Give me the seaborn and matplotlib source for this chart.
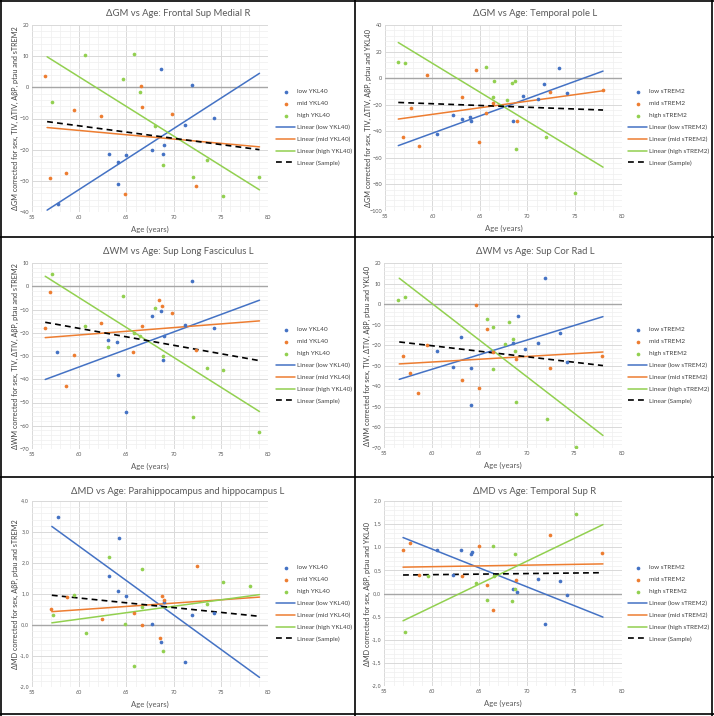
import numpy as np
import pandas as pd
import matplotlib
matplotlib.use('Agg')
import matplotlib.pyplot as plt
import matplotlib.ticker as mticker
from matplotlib.lines import Line2D
import seaborn as sns

# ---- Panel 1: dGM Frontal Sup Medial R (YKL40 groups)
p1_low_x = [57.75, 63.2, 64.15, 64.96, 64.1, 68.66, 67.7, 68.98, 68.9, 71.2, 71.9, 74.26]
p1_low_y = [-37.4, -21.3, -24.1, -21.8, -31.0, 5.9, -20.1, -18.4, -21.3, -12.0, 0.6, -9.9]
p1_mid_x = [56.4, 56.94, 58.6, 59.5, 62.3, 64.8, 66.5, 66.6, 69.8, 72.4]
p1_mid_y = [3.5, -29.2, -27.4, -7.3, -9.1, -34.2, 0.3, -6.4, -8.7, -31.6]
p1_high_x = [57.1, 60.6, 64.6, 65.8, 66.4, 68.0, 68.9, 72.1, 73.5, 75.2, 79.0]
p1_high_y = [-4.6, 10.4, 2.8, 10.8, -1.5, -12.4, -24.9, -28.7, -23.3, -35.0, -28.7]
p1_fit_x = [56.6, 79.1]
p1_fit_low = [-39.4, 4.5]
p1_fit_mid = [-12.9, -19.1]
p1_fit_high = [9.8, -32.9]
p1_fit_all = [-11.0, -20.0]

# ---- Panel 2: dGM Temporal pole L (sTREM2 groups)
p2_low_x = [60.5, 62.2, 63.1, 64.0, 64.1, 68.5, 69.6, 71.1, 71.8, 73.4, 74.2]
p2_low_y = [-42.3, -27.8, -31.0, -29.3, -32.5, -32.5, -13.8, -15.5, -4.5, 7.3, -11.0]
p2_mid_x = [56.9, 57.7, 58.6, 59.4, 63.1, 64.6, 64.9, 65.7, 66.4, 68.9, 72.4, 78.0]
p2_mid_y = [-44.5, -22.3, -51.0, 2.0, -14.3, 5.8, -47.8, -26.3, -18.5, -32.5, -10.8, -8.8]
p2_high_x = [56.4, 57.1, 65.7, 66.5, 66.4, 67.9, 68.4, 68.7, 68.8, 72.0, 75.0]
p2_high_y = [12.0, 11.5, 8.5, -2.5, -14.3, -16.3, -3.8, -1.8, -53.5, -44.5, -86.5]
p2_fit_x = [56.4, 78.0]
p2_fit_low = [-50.8, 5.3]
p2_fit_mid = [-30.8, -9.5]
p2_fit_high = [26.8, -67.0]
p2_fit_all = [-18.3, -24.0]

# ---- Panel 3: dWM Sup Long Fasciculus L (YKL40 groups)
p3_low_x = [57.7, 63.1, 64.0, 64.15, 64.96, 67.7, 68.66, 68.98, 68.9, 71.2, 71.9, 74.26]
p3_low_y = [-28.1, -23.2, -23.8, -38.1, -54.2, -12.9, -10.5, -21.3, -31.8, -16.6, 2.3, -18.1]
p3_mid_x = [56.4, 56.94, 58.6, 59.5, 62.3, 65.7, 66.6, 68.5, 68.8, 69.8, 72.4]
p3_mid_y = [-18.1, -2.6, -42.7, -29.5, -15.9, -28.4, -17.2, -5.7, -8.5, -11.7, -27.4]
p3_high_x = [57.1, 60.6, 64.6, 63.1, 65.8, 66.4, 68.0, 68.9, 72.1, 73.5, 75.2, 79.0]
p3_high_y = [5.2, -16.9, -4.3, -26.1, -20.2, -21.3, -9.5, -29.8, -56.4, -35.0, -36.2, -62.9]
p3_fit_x = [56.4, 79.1]
p3_fit_low = [-40.1, -6.0]
p3_fit_mid = [-22.1, -14.9]
p3_fit_high = [4.3, -53.9]
p3_fit_all = [-15.5, -32.0]

# ---- Panel 4: dWM Sup Cor Rad L (sTREM2 groups)
p4_low_x = [60.6, 62.3, 63.1, 64.1, 64.1, 68.6, 69.1, 69.8, 71.2, 71.9, 73.5, 74.2]
p4_low_y = [-22.8, -30.4, -15.9, -31.2, -49.0, -18.9, -5.8, -21.7, -19.1, 12.6, -13.9, -28.3]
p4_mid_x = [57.0, 57.7, 58.6, 59.5, 63.2, 64.7, 65.0, 65.8, 66.5, 68.9, 72.4, 77.9]
p4_mid_y = [-25.1, -33.3, -43.2, -19.9, -37.1, -0.2, -40.6, -12.0, -23.1, -26.9, -30.9, -25.2]
p4_high_x = [56.5, 57.2, 65.8, 66.5, 66.5, 67.7, 68.1, 68.6, 68.8, 68.9, 72.1, 75.2]
p4_high_y = [1.8, 3.4, -7.0, -11.3, -31.6, -19.4, -8.7, -17.2, -22.8, -47.4, -55.7, -69.7]
p4_fit_x = [56.6, 78.0]
p4_fit_low = [-36.6, -6.1]
p4_fit_mid = [-29.1, -23.3]
p4_fit_high = [12.6, -63.9]
p4_fit_all = [-18.4, -29.9]

# ---- Panel 5: dMD Parahippocampus and hippocampus L (YKL40 groups)
p5_low_x = [57.8, 63.2, 64.2, 64.15, 65.0, 67.7, 68.7, 69.0, 71.2, 71.9, 74.3]
p5_low_y = [3.49, 1.59, 2.80, 1.09, 0.94, 0.02, -0.56, 0.75, -1.20, 0.32, 0.40]
p5_mid_x = [57.0, 58.7, 62.4, 65.8, 66.7, 68.6, 68.8, 69.0, 72.5]
p5_mid_y = [0.51, 0.90, 0.18, 0.40, -0.01, -0.43, 0.92, 0.82, 1.91]
p5_high_x = [57.2, 59.5, 60.7, 63.2, 64.8, 65.8, 66.6, 66.6, 68.9, 73.5, 75.2, 78.1]
p5_high_y = [0.32, 0.96, -0.27, 2.20, 0.03, -1.33, 1.81, 0.58, -0.84, 0.67, 1.40, 1.27]
p5_fit_x = [57.1, 79.1]
p5_fit_low = [3.18, -1.69]
p5_fit_mid = [0.43, 0.90]
p5_fit_high = [0.07, 0.98]
p5_fit_all = [0.96, 0.28]

# ---- Panel 6: dMD Temporal Sup R (sTREM2 groups)
p6_low_x = [60.6, 62.3, 63.1, 64.1, 64.2, 68.6, 69.0, 71.2, 71.9, 73.5, 74.2]
p6_low_y = [0.95, 0.40, 0.95, 0.86, 0.90, 0.09, 0.04, 0.31, -0.67, 0.28, -0.04]
p6_mid_x = [57.0, 57.7, 58.7, 63.2, 65.0, 65.8, 66.5, 68.9, 72.4, 77.9]
p6_mid_y = [0.93, 1.09, 0.39, 0.38, 1.02, 0.19, -0.35, 0.30, 1.26, 0.87]
p6_high_x = [57.2, 59.6, 64.7, 65.8, 66.5, 66.6, 68.4, 68.8, 68.8, 75.2]
p6_high_y = [-0.84, 0.38, 0.23, -0.13, 1.02, 0.37, -0.17, 0.86, 0.10, 1.71]
p6_fit_x = [57.0, 78.0]
p6_fit_low = [1.21, -0.51]
p6_fit_mid = [0.57, 0.64]
p6_fit_high = [-0.59, 1.49]
p6_fit_all = [0.40, 0.45]

titles = ['ΔGM vs Age: Frontal Sup Medial R', 'ΔGM vs Age: Temporal pole L',
          'ΔWM vs Age: Sup Long Fasciculus L', 'ΔWM vs Age: Sup Cor Rad L',
          'ΔMD vs Age: Parahippocampus and hippocampus L', 'ΔMD vs Age: Temporal Sup R']
ylabels = ['ΔGM corrected for sex, TIV, ΔTIV, AβP, ptau and sTREM2',
           'ΔGM corrected for sex, TIV, ΔTIV, AβP, ptau and YKL40',
           'ΔWM corrected for sex, TIV, ΔTIV, AβP, ptau and sTREM2',
           'ΔWM corrected for sex, TIV, ΔTIV, AβP, ptau and YKL40',
           'ΔMD corrected for sex, AβP, ptau and sTREM2',
           'ΔMD corrected for sex, AβP, ptau and YKL40']
markers = ['YKL40', 'sTREM2', 'YKL40', 'sTREM2', 'YKL40', 'sTREM2']

colors = {'low': '#4472C4', 'mid': '#ED7D31', 'high': '#92D050'}

sns.set_style('white')
plt.rcParams['font.family'] = ['Lato', 'DejaVu Sans']

W, H = 714, 716
fig = plt.figure(figsize=(W / 100, H / 100), dpi=100)

# plot areas in pixels: x0, x1, y_top, y_bottom
boxes = [(32, 268, 25, 212), (385, 622, 25, 211),
         (32, 268, 263, 449), (384, 622, 263, 448),
         (32, 268, 501, 687), (384, 622, 501, 686)]
ylims = [(-40, 20, 10), (-100, 40, 20), (-70, 10, 10), (-70, 20, 10), (-2, 4, 1), (-2, 2, 0.5)]
panel_x0 = [0, 357, 0, 357, 0, 357]
row_top = [0, 0, 238, 238, 478, 478]
legend_left = [276, 628, 276, 628, 276, 628]
legend_top = [89, 89, 327, 327, 565, 565]

panels = [
    (p1_low_x, p1_low_y, p1_mid_x, p1_mid_y, p1_high_x, p1_high_y, p1_fit_x, p1_fit_low, p1_fit_mid, p1_fit_high, p1_fit_all),
    (p2_low_x, p2_low_y, p2_mid_x, p2_mid_y, p2_high_x, p2_high_y, p2_fit_x, p2_fit_low, p2_fit_mid, p2_fit_high, p2_fit_all),
    (p3_low_x, p3_low_y, p3_mid_x, p3_mid_y, p3_high_x, p3_high_y, p3_fit_x, p3_fit_low, p3_fit_mid, p3_fit_high, p3_fit_all),
    (p4_low_x, p4_low_y, p4_mid_x, p4_mid_y, p4_high_x, p4_high_y, p4_fit_x, p4_fit_low, p4_fit_mid, p4_fit_high, p4_fit_all),
    (p5_low_x, p5_low_y, p5_mid_x, p5_mid_y, p5_high_x, p5_high_y, p5_fit_x, p5_fit_low, p5_fit_mid, p5_fit_high, p5_fit_all),
    (p6_low_x, p6_low_y, p6_mid_x, p6_mid_y, p6_high_x, p6_high_y, p6_fit_x, p6_fit_low, p6_fit_mid, p6_fit_high, p6_fit_all),
]

for i, pdata in enumerate(panels):
    lx, ly, mx, my, hx, hy, fx, fl, fm, fh, fa = pdata
    x0, x1, yt, yb = boxes[i]
    ax = fig.add_axes([x0 / W, 1 - yb / H, (x1 - x0) / W, (yb - yt) / H])
    ymin, ymax, ystep = ylims[i]
    mk = markers[i]

    for g, gx, gy in [('low', lx, ly), ('mid', mx, my), ('high', hx, hy)]:
        sns.scatterplot(x=gx, y=gy, color=colors[g], s=7, linewidth=0, ax=ax,
                        label=f'{g} {mk}', zorder=4)
    for g, fy in [('low', fl), ('mid', fm), ('high', fh)]:
        sns.lineplot(x=fx, y=fy, color=colors[g], lw=1.1, ax=ax,
                     label=f'Linear ({g} {mk})', zorder=3)
    sns.lineplot(x=fx, y=fa, color='black', lw=1.2, ax=ax, label='Linear (Sample)', zorder=3)
    ax.lines[-1].set_dashes([3.5, 2.5])

    ax.set_xlim(55, 80)
    ax.set_ylim(ymin, ymax)
    ax.xaxis.set_major_locator(mticker.MultipleLocator(5))
    ax.xaxis.set_minor_locator(mticker.MultipleLocator(1))
    ax.yaxis.set_major_locator(mticker.MultipleLocator(ystep))
    ax.yaxis.set_minor_locator(mticker.MultipleLocator(ystep / 5))
    ax.grid(which='major', color='#d9d9d9', lw=0.7)
    ax.grid(which='minor', color='#efefef', lw=0.5)
    ax.set_axisbelow(True)
    ax.axhline(0, color='#a6a6a6', lw=1.0, zorder=2)
    for s in ax.spines.values():
        s.set_visible(False)
    ax.tick_params(which='both', length=0, labelsize=4.0, colors='#595959', pad=2)
    if ystep < 5:
        ax.yaxis.set_major_formatter(mticker.FuncFormatter(lambda v, p: f'{v:.1f}'.replace('.', ',')))
        for t in ax.get_yticklabels():
            t.set_family('DejaVu Sans')
            t.set_fontsize(3.6)
    ax.set_xlabel('')
    ax.set_ylabel('')

    handles, labels = ax.get_legend_handles_labels()
    leg = ax.legend(handles, labels,
                    loc='upper left', bbox_to_anchor=(legend_left[i] / W, 1 - legend_top[i] / H),
                    bbox_transform=fig.transFigure, frameon=False, fontsize=4.6,
                    handlelength=3.0, labelspacing=1.0, handletextpad=0.35,
                    borderaxespad=0, borderpad=0)
    for t in leg.get_texts():
        t.set_color('#404040')

    cx = panel_x0[i] + 178
    fig.text(cx / W, 1 - (row_top[i] + 13) / H, titles[i], ha='center', va='center',
             fontsize=6.8, color='#595959')
    fig.text(((x0 + x1) / 2) / W, 1 - (yb + 17) / H, 'Age (years)', ha='center', va='center',
             fontsize=5.6, color='#595959')
    fig.text((x0 - 17) / W, 1 - ((yt + yb) / 2) / H, ylabels[i], ha='center', va='center',
             rotation=90, fontsize=5.2, color='#404040')

# table-like frame around the six charts
for xx in [1, 355, 712]:
    fig.add_artist(Line2D([xx / W, xx / W], [0, 1], color='black', lw=1.2))
for yy in [1, 237, 477, 714]:
    fig.add_artist(Line2D([0, 1], [1 - yy / H, 1 - yy / H], color='black', lw=1.2))

fig.savefig('out.png', dpi=100)
